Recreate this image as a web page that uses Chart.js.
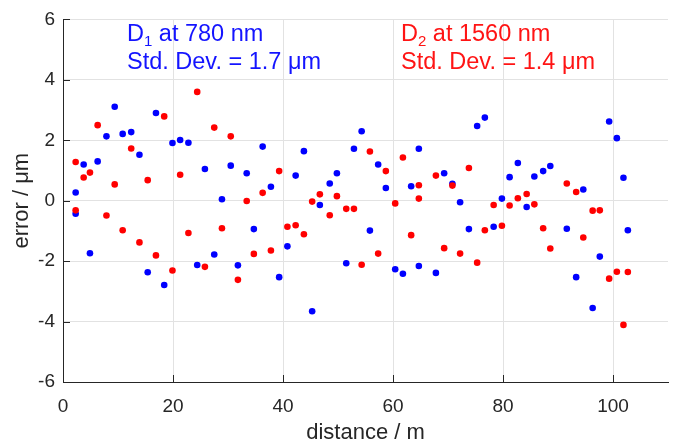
<!DOCTYPE html>
<html><head><meta charset="utf-8">
<script src="https://cdn.jsdelivr.net/npm/chart.js@4"></script>
<style>html,body{margin:0;padding:0;background:#fff;overflow:hidden}#wrap{width:673px;height:446px;position:relative}</style>
</head><body><div id="wrap"><canvas id="c" width="673" height="446"></canvas></div>
<script>
const distance = [
  2.3,2.3,3.76,4.9,6.3,7.9,9.4,10.85,12.4,13.9,
  15.4,16.9,18.4,19.9,21.3,22.8,24.4,25.8,27.5,28.9,
  30.5,31.8,33.4,34.7,36.3,37.8,39.3,40.8,42.3,43.8,
  45.3,46.7,48.5,49.8,51.5,52.9,54.3,55.8,57.3,58.7,
  60.4,61.8,63.3,64.7,64.7,67.8,69.3,70.8,72.2,73.8,
  75.3,76.7,78.3,79.8,81.2,82.7,84.3,85.7,87.3,88.6,
  91.6,93.3,94.6,96.3,97.6,99.3,100.7,101.9,102.7];
const errorD1 = [
  0.27,-0.43,1.20,-1.74,1.30,2.13,3.11,2.21,2.27,1.52,
  -2.37,2.90,-2.79,1.91,2.01,1.92,-2.13,1.05,-1.78,0.05,
  1.16,-2.14,0.91,-0.94,1.79,0.46,-2.53,-1.51,0.83,1.64,
  -3.66,-0.14,0.57,0.91,-2.07,1.72,2.30,-0.99,1.20,0.42,
  -2.27,-2.42,0.48,1.72,-2.16,-2.39,0.91,0.56,-0.05,-0.94,
  2.47,2.75,-0.86,0.07,0.78,1.25,-0.21,0.80,0.98,1.15,
  -0.93,-2.53,0.37,-3.55,-1.85,2.62,2.07,0.76,-0.98];
const errorD2 = [
  1.28,-0.32,0.77,0.93,2.50,-0.49,0.54,-0.98,1.73,-1.38,
  0.68,-1.81,2.79,-2.31,0.86,-1.07,3.60,-2.19,2.42,-0.91,
  2.13,-2.62,-0.01,-1.76,0.26,-1.65,0.98,-0.86,-0.81,-1.11,
  -0.03,0.21,-0.48,0.15,-0.27,-0.27,-2.12,1.63,-1.75,0.98,
  -0.09,1.43,-1.14,0.51,0.07,0.83,-1.57,0.50,-1.75,1.08,
  -2.05,-0.98,-0.14,-0.83,-0.16,0.08,0.22,-0.12,-0.91,-1.58,
  0.57,0.29,-1.22,-0.33,-0.32,-2.58,-2.35,-4.11,-2.36];
const xTicks = [0,20,40,60,80,100];
const yTicks = [-6,-4,-2,0,2,4,6];
const xTitle = 'distance / m';
const yTitle = 'error / μm';
const note1 = ['D','1',' at 780 nm','Std. Dev. = 1.7 μm'];
const note2 = ['D','2',' at 1560 nm','Std. Dev. = 1.4 μm'];

const FAM = '"Liberation Sans", Arial, Helvetica, sans-serif';
const AX = '#262626';
const GRID = '#e2e2e2';

function drawNote(ctx, x, base1, base2, parts, color){
  ctx.fillStyle = color;
  ctx.textBaseline = 'alphabetic';
  ctx.textAlign = 'left';
  ctx.font = '23.5px ' + FAM;
  ctx.fillText(parts[0], x, base1);
  const w0 = ctx.measureText(parts[0]).width;
  ctx.font = '15px ' + FAM;
  ctx.fillText(parts[1], x + w0, base1 + 5);
  const w1 = ctx.measureText(parts[1]).width;
  ctx.font = '23.5px ' + FAM;
  ctx.fillText(parts[2], x + w0 + w1, base1);
  ctx.fillText(parts[3], x, base2);
}

const overlay = {
  id: 'overlay',
  afterDraw(chart){
    const {ctx, chartArea: a, scales: {x, y}} = chart;
    ctx.save();
    ctx.strokeStyle = AX; ctx.lineWidth = 1;
    ctx.beginPath();
    xTicks.forEach(v => { const px = Math.round(x.getPixelForValue(v)) + 0.5; ctx.moveTo(px, a.bottom); ctx.lineTo(px, a.bottom - 7); });
    yTicks.forEach(v => { const py = Math.round(y.getPixelForValue(v)) + 0.5; ctx.moveTo(a.left, py); ctx.lineTo(a.left + 7, py); });
    ctx.stroke();
    drawNote(ctx, a.left + 64, 41, 69, note1, 'rgb(20,20,255)');
    drawNote(ctx, a.left + 338, 41, 69, note2, 'rgb(255,20,20)');
    ctx.restore();
  }
};

new Chart(document.getElementById('c'), {
  type: 'scatter',
  data: {
    datasets: [
      { label: 'D2', data: distance.map((d,i) => ({x: d, y: errorD2[i]})), backgroundColor: '#ff0000', borderWidth: 0, pointRadius: 3.3, order: 0 },
      { label: 'D1', data: distance.map((d,i) => ({x: d, y: errorD1[i]})), backgroundColor: '#0000ff', borderWidth: 0, pointRadius: 3.3, order: 1 }
    ]
  },
  options: {
    responsive: false, animation: false, devicePixelRatio: 1,
    layout: { padding: { top: 15, right: 5, left: 0, bottom: 0 } },
    plugins: { legend: { display: false }, tooltip: { enabled: false } },
    scales: {
      x: {
        type: 'linear', min: 0, max: 110,
        afterBuildTicks: s => { s.ticks = xTicks.map(v => ({ value: v })); },
        afterFit: s => { s.height = 64; },
        grid: { color: GRID, drawTicks: false },
        border: { color: AX, width: 1 },
        ticks: { font: { size: 19, family: FAM }, color: AX, padding: 13, maxRotation: 0 },
        title: { display: true, text: xTitle, font: { size: 22, family: FAM }, color: AX, padding: { top: 0, bottom: 0 } }
      },
      y: {
        type: 'linear', min: -6, max: 6,
        afterBuildTicks: s => { s.ticks = yTicks.map(v => ({ value: v })); },
        afterFit: s => { s.width = 63; },
        grid: { color: GRID, drawTicks: false },
        border: { color: AX, width: 1 },
        ticks: { font: { size: 19, family: FAM }, color: AX, padding: 8 },
        title: { display: true, text: yTitle, font: { size: 22, family: FAM }, color: AX, padding: { top: 9, bottom: 0 } }
      }
    }
  },
  plugins: [overlay]
});
</script></body></html>
